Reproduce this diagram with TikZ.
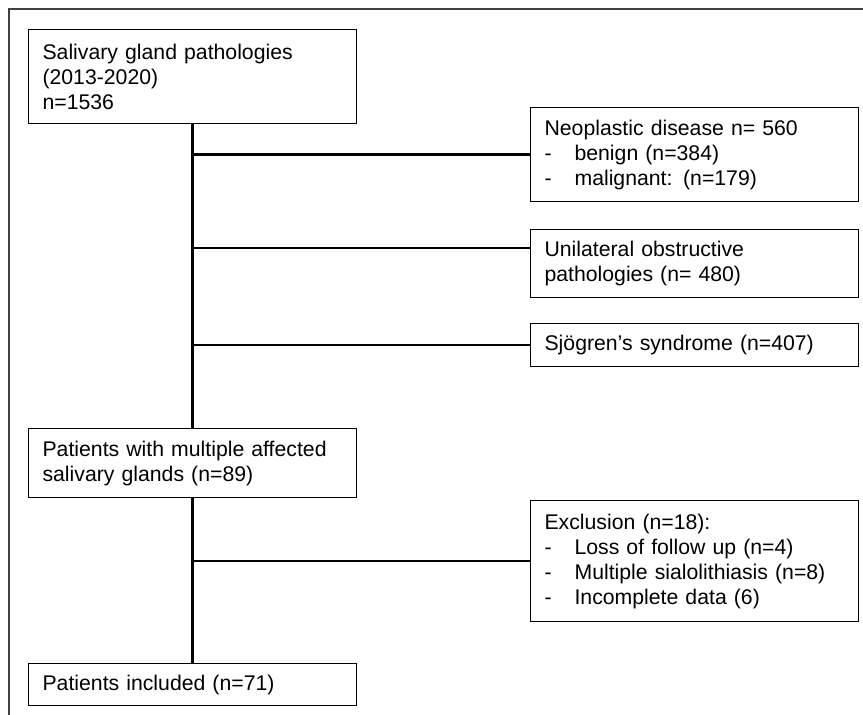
\documentclass[tikz,border=0pt]{standalone}
\usepackage{fontspec}
\setmainfont{Liberation Sans}
\usetikzlibrary{positioning}

\newcommand{\dashitem}[1]{\makebox[0.75cm][l]{-}#1}

\begin{document}
\begin{tikzpicture}[
    x=0.025cm, y=-0.025cm,
    stagebox/.style={draw, line width=0.8pt, anchor=north west, align=left,
        minimum width=8.2cm, text width=7.5cm, inner xsep=0.35cm, inner ysep=2pt,
        font=\fontsize{15.1}{17.8}\selectfont},
    link/.style={line width=2pt},
    frame/.style={line width=0.9pt, black!75},
]
    \useasboundingbox (0,0) rectangle (863,715);

    % Outer frame
    \draw[frame] (9,715) -- (9,9) -- (863,9);

    % Main column
    \node[stagebox, minimum height=2.35cm] (allpath) at (28,29)
        {Salivary gland pathologies\\(2013-2020)\\n=1536};
    \node[stagebox, minimum height=1.725cm] (multi) at (28,428)
        {Patients with multiple affected\\salivary glands (n=89)};
    \node[stagebox, minimum height=1.05cm] (incl) at (28,663)
        {Patients included (n=71)};

    % Side boxes
    \node[stagebox, minimum height=2.35cm] (neo) at (530,107)
        {Neoplastic disease n= 560\\\dashitem{benign (n=384)}\\\dashitem{malignant: (n=179)}};
    \node[stagebox, minimum height=1.7cm] (uni) at (530,229)
        {Unilateral obstructive\\pathologies (n= 480)};
    \node[stagebox, minimum height=1.075cm] (sjo) at (530,323)
        {Sjögren’s syndrome (n=407)};
    \node[stagebox, minimum height=3.025cm] (excl) at (530,500)
        {Exclusion (n=18):\\\dashitem{Loss of follow up (n=4)}\\\dashitem{Multiple sialolithiasis (n=8)}\\\dashitem{Incomplete data (6)}};

    \coordinate (unijoin) at (530,248);

    % Trunk
    \draw[link] (allpath.south) -- (multi.north);
    \draw[link] (multi.south) -- (incl.north);

    % Branches
    \draw[link] (allpath.south |- neo.west) -- (neo.west);
    \draw[link] (allpath.south |- unijoin) -- (unijoin);
    \draw[link] (allpath.south |- sjo.west) -- (sjo.west);
    \draw[link] (multi.south |- excl.west) -- (excl.west);
\end{tikzpicture}
\end{document}
